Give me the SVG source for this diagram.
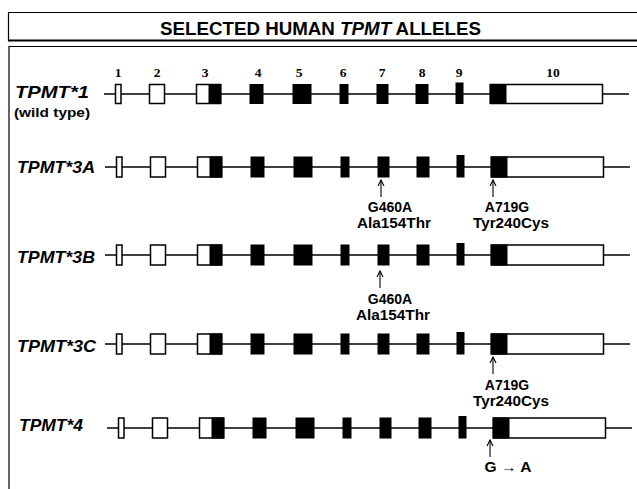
<svg xmlns="http://www.w3.org/2000/svg" width="637" height="489" viewBox="0 0 637 489">
<style>
.frame{fill:none;stroke:#000;stroke-width:1.2}
.title{font-family:"Liberation Sans",Arial,sans-serif;font-weight:bold;font-size:18.5px;fill:#000}
.lbl{font-family:"Liberation Sans",Arial,sans-serif;font-weight:bold;font-style:italic;font-size:17px;fill:#000}
.sub{font-family:"Liberation Sans",Arial,sans-serif;font-weight:bold;font-size:13.5px;fill:#000}
.ann{font-family:"Liberation Sans",Arial,sans-serif;font-weight:bold;font-size:14px;fill:#000;text-anchor:middle}
.num{font-family:"Liberation Serif","Times New Roman",serif;font-weight:bold;font-size:13.5px;fill:#000;text-anchor:middle}
.intron{stroke:#000;stroke-width:1.5;fill:none}
.w{fill:#fff;stroke:#000;stroke-width:1.5}
.b{fill:#000;stroke:#000;stroke-width:1}
.arr{stroke:#000;stroke-width:1.1;fill:none;marker-end:url(#ah)}
</style>
<defs>
<marker id="ah" viewBox="0 0 8 8" refX="7" refY="4" markerWidth="8" markerHeight="8" markerUnits="userSpaceOnUse" orient="auto">
<path d="M1,1 L7,4 L1,7" fill="none" stroke="#000" stroke-width="1.1"/>
</marker>
</defs>
<rect width="637" height="489" fill="#fff"/>

<g id="header">
<path class="frame" d="M8.5,41 V12.5 H640"/>
<line x1="8" y1="40.5" x2="640" y2="40.5" stroke="#000" stroke-width="2"/>
<text class="title" x="160" y="35" textLength="321" lengthAdjust="spacingAndGlyphs">SELECTED HUMAN <tspan font-style="italic">TPMT</tspan> ALLELES</text>
</g>
<g id="panel">
<path class="frame" d="M9,489 V46.5 H640" stroke-width="1.5"/>
</g>

<g id="exon-numbers">
<text class="num" x="118" y="77">1</text>
<text class="num" x="157" y="77">2</text>
<text class="num" x="205" y="77">3</text>
<text class="num" x="258" y="77">4</text>
<text class="num" x="299" y="77">5</text>
<text class="num" x="343" y="77">6</text>
<text class="num" x="382" y="77">7</text>
<text class="num" x="422" y="77">8</text>
<text class="num" x="459" y="77">9</text>
<text class="num" x="553" y="77">10</text>
</g>

<g id="tpmt1">
<text class="lbl" x="15" y="98" textLength="74" lengthAdjust="spacingAndGlyphs">TPMT*1</text>
<text class="sub" x="14" y="117" textLength="76" lengthAdjust="spacingAndGlyphs">(wild type)</text>
<g transform="translate(0,94)">
<line class="intron" x1="104" y1="0" x2="629" y2="0"/>
<rect class="w" x="115.5" y="-9.5" width="5.5" height="19"/>
<rect class="w" x="149.5" y="-9.5" width="15" height="19"/>
<rect class="w" x="196.5" y="-9.5" width="24" height="19"/>
<rect class="b" x="209" y="-9.5" width="12" height="19"/>
<rect class="b" x="250" y="-9.5" width="13" height="19"/>
<rect class="b" x="293" y="-9.5" width="18" height="19"/>
<rect class="b" x="340" y="-9.5" width="8" height="19"/>
<rect class="b" x="377" y="-9.5" width="11" height="19"/>
<rect class="b" x="416" y="-9.5" width="12" height="19"/>
<rect class="b" x="456" y="-11" width="7" height="20.5"/>
<rect class="w" x="490.5" y="-9.5" width="112" height="19"/>
<rect class="b" x="490" y="-9.5" width="16" height="19"/>
</g>
</g>

<g id="tpmt3a">
<text class="lbl" x="17" y="173" textLength="78" lengthAdjust="spacingAndGlyphs">TPMT*3A</text>
<g transform="translate(1,167)">
<line class="intron" x1="104" y1="0" x2="629" y2="0"/>
<rect class="w" x="115.5" y="-10" width="5.5" height="20"/>
<rect class="w" x="149.5" y="-10" width="15" height="20"/>
<rect class="w" x="196.5" y="-10" width="24" height="20"/>
<rect class="b" x="209" y="-10" width="12" height="20"/>
<rect class="b" x="250" y="-10" width="13" height="20"/>
<rect class="b" x="293" y="-10" width="18" height="20"/>
<rect class="b" x="340" y="-10" width="8" height="20"/>
<rect class="b" x="377" y="-10" width="11" height="20"/>
<rect class="b" x="416" y="-10" width="12" height="20"/>
<rect class="b" x="456" y="-11.5" width="7" height="21.5"/>
<rect class="w" x="490.5" y="-10" width="112" height="20"/>
<rect class="b" x="490" y="-10" width="16" height="20"/>
</g>
<text class="ann" x="390" y="212">G460A</text>
<text class="ann" x="394" y="228" textLength="74" lengthAdjust="spacingAndGlyphs">Ala154Thr</text>
<text class="ann" x="507" y="212">A719G</text>
<text class="ann" x="511" y="228" textLength="76" lengthAdjust="spacingAndGlyphs">Tyr240Cys</text>
</g>

<g id="tpmt3b">
<text class="lbl" x="17" y="263" textLength="78" lengthAdjust="spacingAndGlyphs">TPMT*3B</text>
<g transform="translate(1,255)">
<line class="intron" x1="104" y1="0" x2="629" y2="0"/>
<rect class="w" x="115.5" y="-10" width="5.5" height="20"/>
<rect class="w" x="149.5" y="-10" width="15" height="20"/>
<rect class="w" x="196.5" y="-10" width="24" height="20"/>
<rect class="b" x="209" y="-10" width="12" height="20"/>
<rect class="b" x="250" y="-10" width="13" height="20"/>
<rect class="b" x="293" y="-10" width="18" height="20"/>
<rect class="b" x="340" y="-10" width="8" height="20"/>
<rect class="b" x="377" y="-10" width="11" height="20"/>
<rect class="b" x="416" y="-10" width="12" height="20"/>
<rect class="b" x="456" y="-11.5" width="7" height="21.5"/>
<rect class="w" x="490.5" y="-10" width="112" height="20"/>
<rect class="b" x="490" y="-10" width="16" height="20"/>
</g>
<text class="ann" x="390" y="304">G460A</text>
<text class="ann" x="393" y="320" textLength="74" lengthAdjust="spacingAndGlyphs">Ala154Thr</text>
</g>

<g id="tpmt3c">
<text class="lbl" x="17" y="352" textLength="79" lengthAdjust="spacingAndGlyphs">TPMT*3C</text>
<g transform="translate(1,344)">
<line class="intron" x1="104" y1="0" x2="629" y2="0"/>
<rect class="w" x="115.5" y="-10" width="5.5" height="20"/>
<rect class="w" x="149.5" y="-10" width="15" height="20"/>
<rect class="w" x="196.5" y="-10" width="24" height="20"/>
<rect class="b" x="209" y="-10" width="12" height="20"/>
<rect class="b" x="250" y="-10" width="13" height="20"/>
<rect class="b" x="293" y="-10" width="18" height="20"/>
<rect class="b" x="340" y="-10" width="8" height="20"/>
<rect class="b" x="377" y="-10" width="11" height="20"/>
<rect class="b" x="416" y="-10" width="12" height="20"/>
<rect class="b" x="456" y="-11.5" width="7" height="21.5"/>
<rect class="w" x="490.5" y="-10" width="112" height="20"/>
<rect class="b" x="490" y="-10" width="16" height="20"/>
</g>
<text class="ann" x="507" y="390">A719G</text>
<text class="ann" x="511" y="406" textLength="76" lengthAdjust="spacingAndGlyphs">Tyr240Cys</text>
</g>

<g id="tpmt4">
<text class="lbl" x="19" y="431" textLength="64" lengthAdjust="spacingAndGlyphs">TPMT*4</text>
<g transform="translate(3,428)">
<line class="intron" x1="104" y1="0" x2="629" y2="0"/>
<rect class="w" x="115.5" y="-10" width="5.5" height="20"/>
<rect class="w" x="149.5" y="-10" width="15" height="20"/>
<rect class="w" x="196.5" y="-10" width="24" height="20"/>
<rect class="b" x="209" y="-10" width="12" height="20"/>
<rect class="b" x="250" y="-10" width="13" height="20"/>
<rect class="b" x="293" y="-10" width="18" height="20"/>
<rect class="b" x="340" y="-10" width="8" height="20"/>
<rect class="b" x="377" y="-10" width="11" height="20"/>
<rect class="b" x="416" y="-10" width="12" height="20"/>
<rect class="b" x="456" y="-11.5" width="7" height="21.5"/>
<rect class="w" x="490.5" y="-10" width="112" height="20"/>
<rect class="b" x="490" y="-10" width="16" height="20"/>
</g>
<text class="ann" x="508" y="472" textLength="47" lengthAdjust="spacingAndGlyphs">G → A</text>
</g>

<g id="connectors">
<line class="arr" x1="381" y1="197" x2="381" y2="180"/>
<line class="arr" x1="493" y1="197" x2="493" y2="180"/>
<line class="arr" x1="380" y1="288" x2="380" y2="271"/>
<line class="arr" x1="493" y1="374" x2="493" y2="357"/>
<line class="arr" x1="490" y1="457" x2="490" y2="440"/>
</g>
</svg>
